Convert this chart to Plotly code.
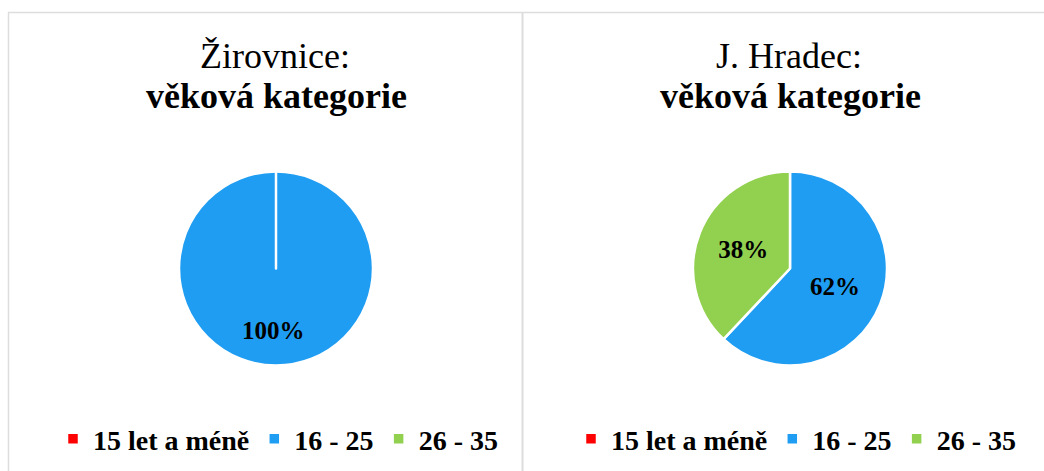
import plotly.graph_objects as go

categories = ["15 let a méně", "16 - 25", "26 - 35"]
zirovnice_values = [0, 100, 0]
hradec_values = [0, 62, 38]
titles_line1 = ["Žirovnice:", "J. Hradec:"]
title_line2 = "věková kategorie"
colors = ["#FF0000", "#1F9DF2", "#92D050"]

W, H = 1044, 471
FONT = "Liberation Serif"

def px_x(v):
    return v / W

def px_y(v):
    return 1 - v / H

fig = go.Figure()

pie_centers = [276, 790]
R = 97
CY = 268.5
annotations = []
for i, (vals, cx) in enumerate(zip([zirovnice_values, hradec_values], pie_centers)):
    total = sum(vals)
    full = any(v == total for v in vals)
    # second pie gets invisibly distinct labels so it owns its own legend entries
    labels = categories if i == 0 else [c + "\u200b" for c in categories]
    fig.add_trace(go.Pie(
        labels=labels,
        values=vals,
        sort=False,
        direction="clockwise",
        rotation=0,
        marker=dict(colors=colors, line=dict(color="white", width=2.5)),
        texttemplate="%{percent:.0%}",
        textinfo="none" if full else None,
        textposition="none" if full else "inside",
        insidetextorientation="horizontal",
        textfont=dict(family=FONT, size=25, color="black", weight="bold"),
        domain=dict(x=[px_x(cx - R), px_x(cx + R)], y=[px_y(CY + R), px_y(CY - R)]),
        legend="legend" if i == 0 else "legend2",
        hoverinfo="skip",
        showlegend=True,
    ))
    if full:
        # single full slice: label sits in the lower part of the disc
        annotations.append(dict(text="<b>%d%%</b>" % round(100 * max(vals) / total),
                                x=px_x(cx - 3), y=px_y(CY + 0.64 * R), xref="paper", yref="paper",
                                xanchor="center", yanchor="middle", showarrow=False,
                                font=dict(family=FONT, size=25, color="black")))

for t, cx in zip(titles_line1, [275, 789]):
    annotations.append(dict(text=t, x=px_x(cx), y=px_y(56), xref="paper", yref="paper",
                            xanchor="center", yanchor="middle", showarrow=False,
                            font=dict(family=FONT, size=36, color="black")))
    annotations.append(dict(text="<b>" + title_line2 + "</b>", x=px_x(cx + 1), y=px_y(96),
                            xref="paper", yref="paper", xanchor="center", yanchor="middle",
                            showarrow=False, font=dict(family=FONT, size=36, color="black")))

border = "#DDDDDD"
shapes = [
    dict(type="line", xref="paper", yref="paper", x0=px_x(8), x1=1, y0=px_y(12.5), y1=px_y(12.5),
         line=dict(color=border, width=1.5)),
    dict(type="line", xref="paper", yref="paper", x0=px_x(8.5), x1=px_x(8.5), y0=px_y(12.5), y1=0,
         line=dict(color=border, width=1.5)),
    dict(type="line", xref="paper", yref="paper", x0=px_x(522.5), x1=px_x(522.5), y0=px_y(12.5), y1=0,
         line=dict(color=border, width=2)),
]

legend_common = dict(orientation="h", yanchor="middle", xanchor="center",
                     font=dict(family=FONT, size=28, color="black", weight="bold"),
                     bgcolor="rgba(0,0,0,0)", itemwidth=30, traceorder="normal")

fig.update_layout(
    width=W, height=H,
    margin=dict(l=0, r=0, t=0, b=0),
    paper_bgcolor="white",
    plot_bgcolor="white",
    annotations=annotations,
    shapes=shapes,
    legend=dict(x=px_x(278), y=px_y(439), **legend_common),
    legend2=dict(x=px_x(796), y=px_y(439), **legend_common),
)

fig.write_html("out.html",
               config={"displayModeBar": False},
               post_script="document.body.style.margin='0';document.body.style.overflow='hidden';")
